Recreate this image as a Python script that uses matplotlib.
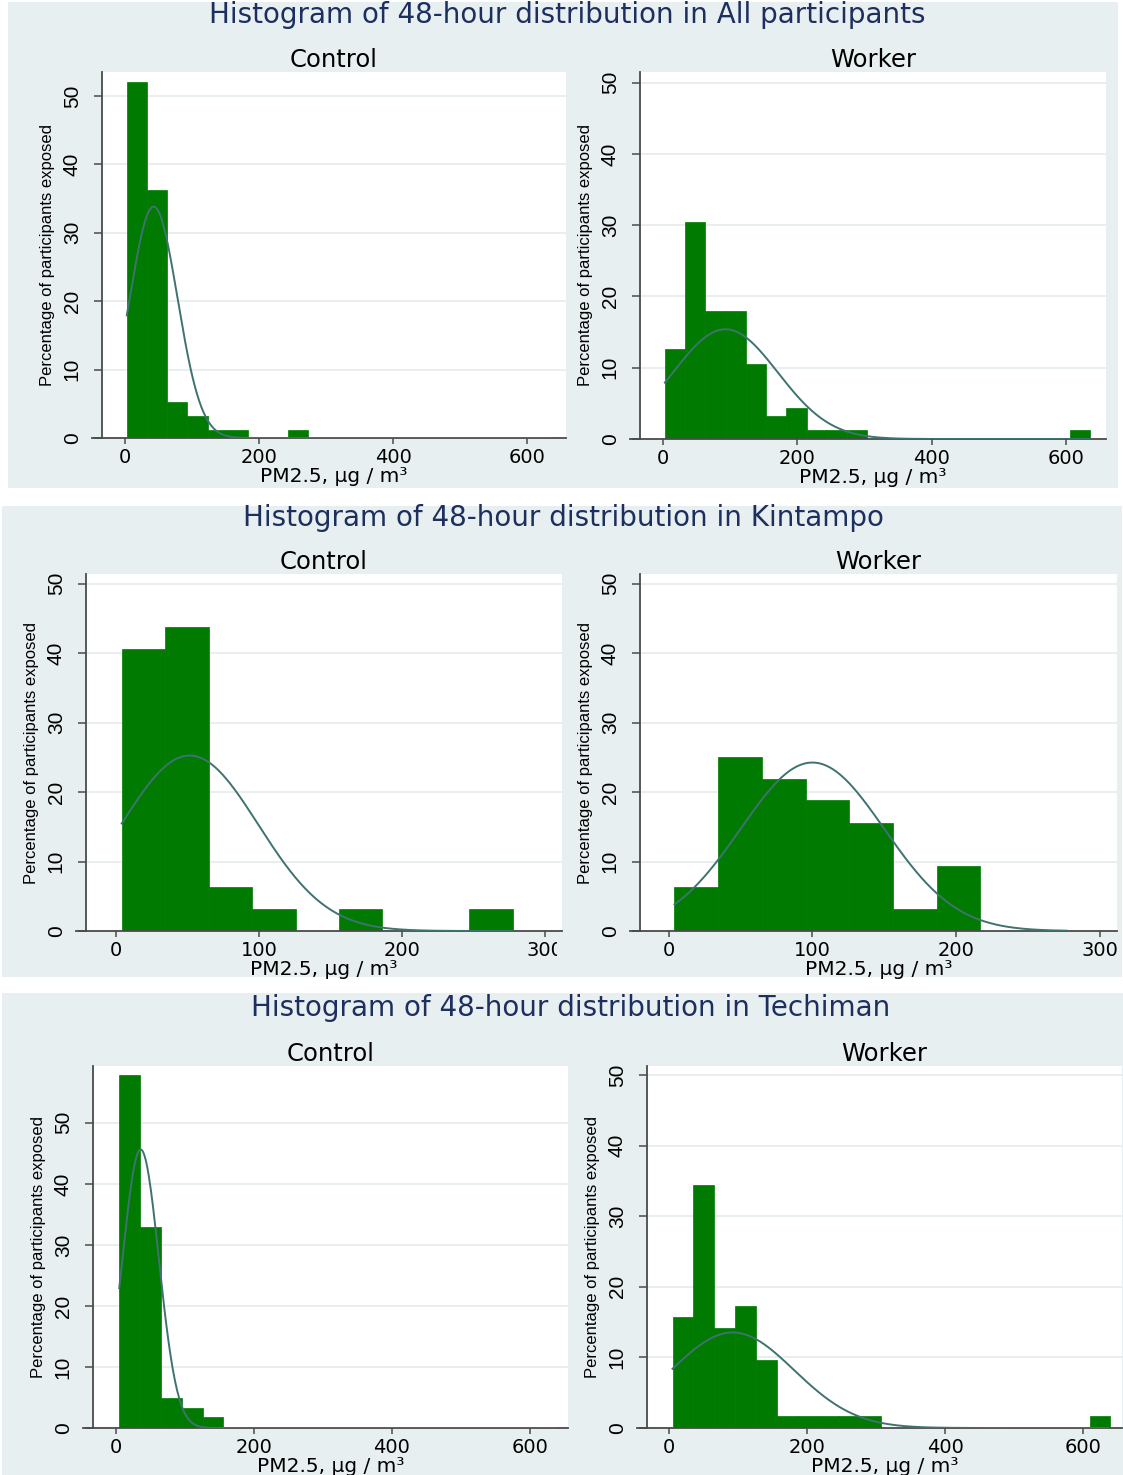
import numpy as np
import matplotlib
matplotlib.use("Agg")
import matplotlib.pyplot as plt
from matplotlib import font_manager
from matplotlib.patches import Rectangle
from matplotlib.transforms import Bbox, TransformedBbox


# ---- data (percent of participants per bin) ----
GROUPS = ["Control", "Worker"]

# All participants: 21 bins
ALL_BIN_START = 3.0
ALL_BIN_WIDTH = 30.1
ALL_CONTROL_PCT = [52.1, 36.2, 5.3, 3.2, 1.1, 1.1, 0, 0, 1.1, 0,
                   0, 0, 0, 0, 0, 0, 0, 0, 0, 0, 0]
ALL_WORKER_PCT = [12.6, 30.4, 17.9, 17.9, 10.5, 3.2, 4.4, 1.2, 1.2, 1.2,
                  0, 0, 0, 0, 0, 0, 0, 0, 0, 0, 1.2]
ALL_MEAN = [43.0, 93.0]
ALL_SD = [35.5, 78.0]
ALL_MAX = 635.0

# Kintampo: 9 bins
KIN_BIN_START = 4.0
KIN_BIN_WIDTH = 30.4
KIN_CONTROL_PCT = [40.6, 43.8, 6.3, 3.1, 0, 3.1, 0, 0, 3.1]
KIN_WORKER_PCT = [6.3, 25.0, 21.9, 18.8, 15.6, 3.1, 9.4, 0, 0]
KIN_MEAN = [51.5, 100.0]
KIN_SD = [48.0, 50.0]
KIN_MAX = 277.0

# Techiman: 21 bins
TECH_BIN_START = 5.0
TECH_BIN_WIDTH = 30.2
TECH_CONTROL_PCT = [57.9, 33.0, 4.9, 3.2, 1.8, 0, 0, 0, 0, 0,
                    0, 0, 0, 0, 0, 0, 0, 0, 0, 0, 0]
TECH_WORKER_PCT = [15.7, 34.5, 14.2, 17.3, 9.6, 1.7, 1.7, 1.7, 1.7, 1.7,
                   0, 0, 0, 0, 0, 0, 0, 0, 0, 0, 1.7]
TECH_MEAN = [36.0, 92.0]
TECH_SD = [26.4, 89.0]
TECH_MAX = 636.0

TITLES = [
    "Histogram of 48-hour distribution in All participants",
    "Histogram of 48-hour distribution in Kintampo",
    "Histogram of 48-hour distribution in Techiman",
]
X_TICKS_WIDE = [0, 200, 400, 600]
X_TICKS_NARROW = [0, 100, 200, 300]
Y_TICKS = [0, 10, 20, 30, 40, 50]
X_LABEL = "PM2.5, µg / m³"
Y_LABEL = "Percentage of participants exposed"


W, H = 1123, 1475
BG = "#e8eff1"
GRID = "#e3ebed"
AXIS = "#4a4a4a"
BAR = "#007a00"
CURVE = "#3f7370"
NAVY = "#1c2f5e"

# the rotated texts look condensed in the original
_installed = {f.name for f in font_manager.fontManager.ttflist}
if "Liberation Sans Narrow" in _installed:
    NARROW = ["Liberation Sans Narrow", "DejaVu Sans"]
    YLABEL_SIZE = 14
else:
    NARROW = ["Liberation Sans", "DejaVu Sans"]
    YLABEL_SIZE = 12


def box(x0, y0, x1, y1):
    return [x0 / W, 1 - y1 / H, (x1 - x0) / W, (y1 - y0) / H]


def draw_hist(fig, rect, name, pct, start, width, mean, sd, xmax,
              xlim, ylim, xticks):
    ax = fig.add_axes(box(*rect))
    ax.set_zorder(2)
    ax.set_facecolor("white")

    edges = start + width * np.arange(len(pct))
    ax.bar(edges, pct, width=width, align="edge", color=BAR,
           edgecolor=BAR, linewidth=0.5, zorder=2)

    xs = np.linspace(start, xmax, 400)
    ys = 100 * width * np.exp(-0.5 * ((xs - mean) / sd) ** 2) / (sd * np.sqrt(2 * np.pi))
    ax.plot(xs, ys, color=CURVE, lw=1.4, zorder=3)

    ax.set_xlim(*xlim)
    ax.set_ylim(*ylim)
    ax.set_xticks(xticks)
    ax.set_yticks(Y_TICKS)
    ax.yaxis.grid(True, color=GRID, lw=1.1, zorder=0)
    ax.set_axisbelow(True)

    for side in ["top", "right"]:
        ax.spines[side].set_visible(False)
    for side in ["left", "bottom"]:
        ax.spines[side].set_color(AXIS)
        ax.spines[side].set_linewidth(1.3)
    # stata draws the x axis a bit past the y axis
    ax.plot([-0.022, 0], [0, 0], transform=ax.transAxes, clip_on=False,
            color=AXIS, lw=1.3)

    ax.tick_params(axis="both", colors=AXIS, width=1.1)
    ax.tick_params(axis="x", length=4.5, labelsize=14, labelcolor="black", pad=2.5)
    ax.tick_params(axis="y", length=5.5, labelsize=15, labelcolor="black", pad=9,
                   labelrotation=90)
    for lab in ax.get_yticklabels():
        lab.set_va("center")
        lab.set_family(NARROW)

    ax.set_title(name, fontsize=17.5, pad=3, color="black")
    ax.set_xlabel(X_LABEL, fontsize=14.5, labelpad=0)
    ax.set_ylabel(Y_LABEL, fontsize=YLABEL_SIZE, family=NARROW, labelpad=6)
    return ax


def main():
    plt.rcParams["font.family"] = ["DejaVu Sans"]
    fig = plt.figure(figsize=(W / 100, H / 100), dpi=100)
    fig.patch.set_facecolor("white")

    # panel backgrounds
    for x0, y0, x1, y1 in [(8, 2, 1118, 488), (2, 506, 1122, 977), (2, 993, 1123, 1475)]:
        b = box(x0, y0, x1, y1)
        fig.patches.append(Rectangle((b[0], b[1]), b[2], b[3], transform=fig.transFigure,
                                     facecolor=BG, edgecolor="none", zorder=-10))

    fig.text(567 / W, 1 - 15 / H, TITLES[0], ha="center", va="center",
             fontsize=20, color=NAVY)
    fig.text(563 / W, 1 - 518 / H, TITLES[1], ha="center", va="center",
             fontsize=20, color=NAVY)
    fig.text(571 / W, 1 - 1008 / H, TITLES[2], ha="center", va="center",
             fontsize=20, color=NAVY)

    # All participants
    draw_hist(fig, (102, 72, 566, 438), GROUPS[0], ALL_CONTROL_PCT,
              ALL_BIN_START, ALL_BIN_WIDTH, ALL_MEAN[0], ALL_SD[0], ALL_MAX,
              (-34, 658), (0, 53.5), X_TICKS_WIDE)
    draw_hist(fig, (640, 72, 1106, 439), GROUPS[1], ALL_WORKER_PCT,
              ALL_BIN_START, ALL_BIN_WIDTH, ALL_MEAN[1], ALL_SD[1], ALL_MAX,
              (-34, 659), (0, 51.5), X_TICKS_WIDE)

    # Kintampo
    kin_control = draw_hist(fig, (86, 574, 562, 931), GROUPS[0], KIN_CONTROL_PCT,
                            KIN_BIN_START, KIN_BIN_WIDTH, KIN_MEAN[0], KIN_SD[0], KIN_MAX,
                            (-21, 312), (0, 51.4), X_TICKS_NARROW)
    draw_hist(fig, (640, 574, 1117, 931), GROUPS[1], KIN_WORKER_PCT,
              KIN_BIN_START, KIN_BIN_WIDTH, KIN_MEAN[1], KIN_SD[1], KIN_MAX,
              (-20, 312), (0, 51.4), X_TICKS_NARROW)

    # Techiman
    draw_hist(fig, (93, 1066, 568, 1428), GROUPS[0], TECH_CONTROL_PCT,
              TECH_BIN_START, TECH_BIN_WIDTH, TECH_MEAN[0], TECH_SD[0], TECH_MAX,
              (-33, 655), (0, 59.3), X_TICKS_WIDE)
    draw_hist(fig, (647, 1066, 1122, 1428), GROUPS[1], TECH_WORKER_PCT,
              TECH_BIN_START, TECH_BIN_WIDTH, TECH_MEAN[1], TECH_SD[1], TECH_MAX,
              (-32, 656), (0, 51.3), X_TICKS_WIDE)

    # the "300" of the Kintampo control panel is cut at its graph edge
    fig.canvas.draw()
    cb = TransformedBbox(Bbox([[0, 0], [557 / W, 1]]), fig.transFigure)
    for lab in kin_control.get_xticklabels():
        lab.set_clip_box(cb)
        lab.set_clip_on(True)

    fig.savefig("out.png", dpi=100, facecolor="white")
    plt.close(fig)


if __name__ == "__main__":
    main()
